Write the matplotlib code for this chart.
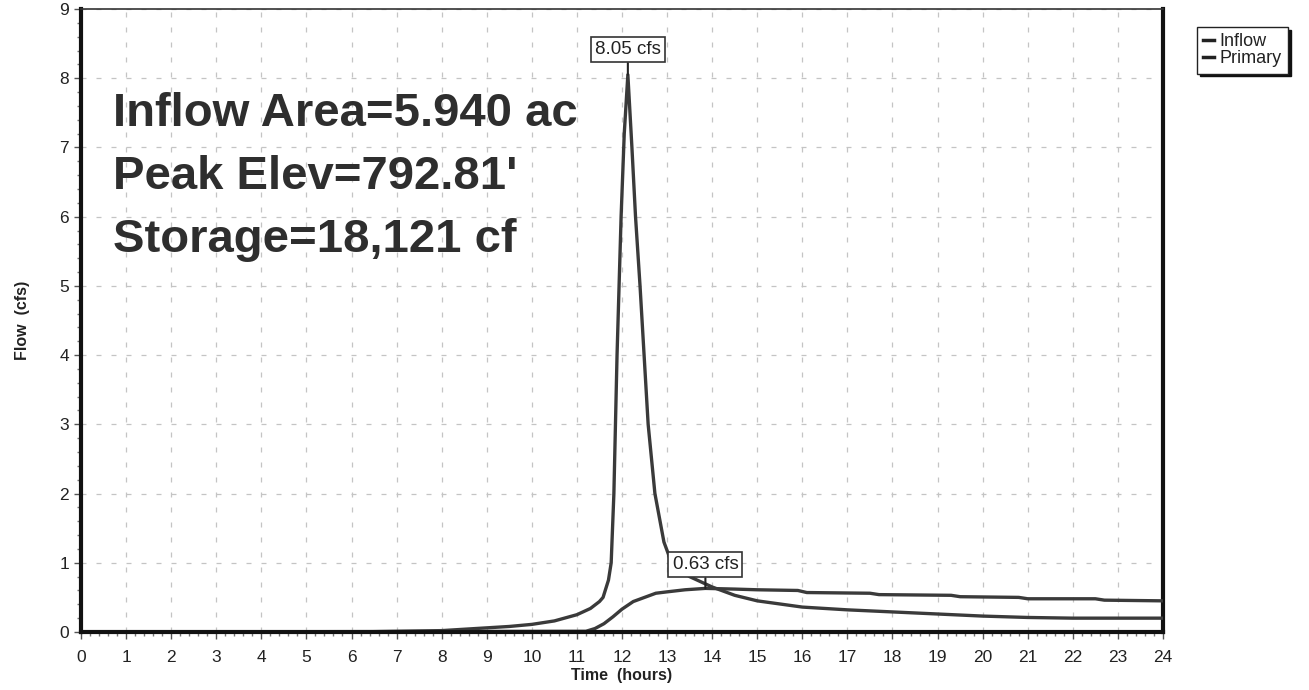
import matplotlib
matplotlib.use("Agg")
import matplotlib.pyplot as plt
from matplotlib.ticker import MultipleLocator
from matplotlib.lines import Line2D

plt.rcParams['font.family'] = ['Liberation Sans', 'DejaVu Sans']

# ---- data ----
inflow_t = [0, 6, 7, 8, 8.5, 9, 9.5, 10, 10.5, 11, 11.3, 11.5, 11.58, 11.7, 11.76,
            11.82, 11.89, 11.98, 12.05, 12.13, 12.22, 12.3, 12.4, 12.58, 12.73, 12.93,
            13.1, 13.5, 14.0, 14.5, 15, 16, 17, 18, 19, 20, 21, 22, 23, 24]
inflow_v = [0, 0, 0.01, 0.02, 0.04, 0.06, 0.08, 0.11, 0.16, 0.25, 0.34, 0.44, 0.5, 0.75, 1.0,
            2.0, 4.0, 6.0, 7.2, 8.05, 7.0, 6.0, 5.0, 3.0, 2.0, 1.3,
            1.0, 0.8, 0.65, 0.53, 0.45, 0.36, 0.32, 0.29, 0.26, 0.23, 0.21, 0.2, 0.2, 0.2]

primary_t = [0, 11.2, 11.4, 11.6, 11.8, 12.0, 12.25, 12.5, 12.75, 13.0, 13.4, 13.85,
             14.5, 15.0, 15.9, 16.1, 17.5, 17.7, 19.3, 19.5, 20.8, 21.0, 22.5, 22.7, 24]
primary_v = [0, 0.01, 0.05, 0.12, 0.22, 0.33, 0.44, 0.5, 0.56, 0.58, 0.61, 0.63,
             0.62, 0.61, 0.6, 0.57, 0.56, 0.54, 0.53, 0.51, 0.5, 0.48, 0.48, 0.46, 0.45]

x_ticks = list(range(0, 25))
y_ticks = list(range(0, 10))
stats_lines = ["Inflow Area=5.940 ac", "Peak Elev=792.81'", "Storage=18,121 cf"]
inflow_peak = (12.13, 8.05, "8.05 cfs")
primary_peak = (13.85, 0.63, "0.63 cfs")
series_names = ["Inflow", "Primary"]

W, H = 1309, 690
fig = plt.figure(figsize=(W / 100, H / 100), dpi=100)
ax = fig.add_axes([81 / W, 1 - 632 / H, (1163 - 81) / W, (632 - 9) / H])

line_col = '#3a3a3a'
ax.plot(inflow_t, inflow_v, color=line_col, lw=2.4, solid_joinstyle='round', zorder=4)
ax.plot(primary_t, primary_v, color=line_col, lw=2.4, solid_joinstyle='round', zorder=4)
ax.axhline(0, color='#111111', lw=3.5, zorder=5)

ax.set_xlim(0, 24)
ax.set_ylim(0, 9)
ax.set_xticks(x_ticks)
ax.set_yticks(y_ticks)
ax.xaxis.set_minor_locator(MultipleLocator(0.2))
ax.yaxis.set_minor_locator(MultipleLocator(0.2))
ax.tick_params(axis='both', which='major', labelsize=12.5, labelcolor='#222222',
               color='#555555', length=5, width=1, direction='out')
ax.tick_params(axis='both', which='minor', color='#777777', length=3, width=1, direction='out')
ax.tick_params(axis='x', which='major', pad=8)

ax.grid(True, which='major', color='#c4c4c4', linestyle=(0, (4, 8)), linewidth=0.9)
ax.set_axisbelow(True)

for s in ['left', 'bottom', 'right']:
    ax.spines[s].set_linewidth(3)
    ax.spines[s].set_color('#111111')
ax.spines['top'].set_linewidth(1.2)
ax.spines['top'].set_color('#333333')

ax.set_xlabel("Time  (hours)", fontsize=11.5, fontweight='bold', color='#222222', labelpad=2)
ax.set_ylabel("Flow  (cfs)", fontsize=11.5, fontweight='bold', color='#222222', labelpad=21)

# stats text
for i, txt in enumerate(stats_lines):
    ax.text(113 / W, 1 - (114 + i * 63) / H, txt, transform=fig.transFigure,
            fontsize=34, fontweight='bold', color='#2e2e2e', va='center', ha='left', zorder=6)

# peak labels
for (t, v, lab), ytxt in [(inflow_peak, 8.41), (primary_peak, 0.97)]:
    ax.annotate(lab, xy=(t, v), xytext=(t, ytxt), ha='center', va='center',
                fontsize=13.5, color='#222222', zorder=7,
                bbox=dict(boxstyle='square,pad=0.22', fc='white', ec='#333333', lw=1.2),
                arrowprops=dict(arrowstyle='-', color='#222222', lw=1.5, shrinkA=0, shrinkB=0))

# legend
handles = [Line2D([0], [0], color='#222222', lw=2.5) for _ in series_names]
leg = fig.legend(handles, series_names, loc='upper left',
                 bbox_to_anchor=(1197 / W, 1 - 27 / H), fontsize=13,
                 frameon=True, fancybox=False, shadow={'color': '#111111', 'alpha': 1.0},
                 handlelength=0.6, handletextpad=0.3, borderpad=0.35, labelspacing=0.0,
                 borderaxespad=0)
leg.get_frame().set_edgecolor('#222222')
leg.get_frame().set_linewidth(1.0)
for t in leg.get_texts():
    t.set_color('#222222')

fig.savefig("out.png", dpi=100)
